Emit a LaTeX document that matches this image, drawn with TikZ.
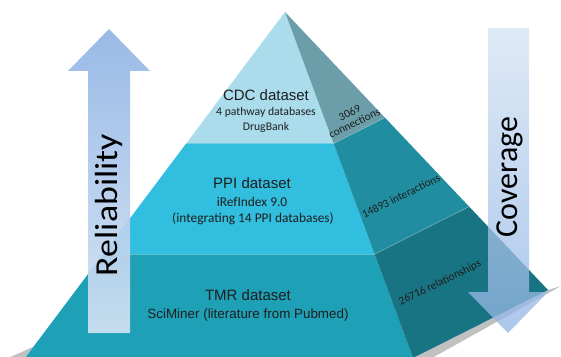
\documentclass[tikz,border=0pt]{standalone}
\usepackage{tikz,tkz-euclide}
\usetikzlibrary{positioning,calc}
\usepackage{fontspec}
\newfontfamily\arialfont{Liberation Sans}
\newfontfamily\calibfont{Carlito}

\definecolor{cdcfront}{RGB}{170,220,236}
\definecolor{cdcside}{RGB}{108,158,170}
\definecolor{ppifront}{RGB}{50,190,222}
\definecolor{ppiside}{RGB}{32,141,160}
\definecolor{tmrfront}{RGB}{30,160,182}
\definecolor{tmrside}{RGB}{24,116,131}
\definecolor{arrowdeep}{RGB}{145,180,228}
\definecolor{arrowmid}{RGB}{200,220,242}
\definecolor{arrowpale}{RGB}{210,226,243}
\definecolor{textdark}{RGB}{30,30,30}

\tikzset{
  dstitle/.style={font=\arialfont\fontsize{15}{17}\selectfont, text=textdark, anchor=base, inner sep=0pt},
  dssource/.style={font=\calibfont\fontsize{13.4}{15}\selectfont, text=textdark, anchor=base, inner sep=0pt},
  dscount/.style={font=\calibfont\fontsize{11.3}{11}\selectfont, text=textdark, rotate=26, align=center, inner sep=0pt},
  axisword/.style={font=\calibfont\fontsize{32}{34}\selectfont, text=black, rotate=90, anchor=base, inner sep=0pt},
}

\begin{document}
\begin{tikzpicture}[x=1pt,y=1pt]
  \useasboundingbox (0,0) rectangle (561,356);
  \clip (0,0) rectangle (561,356);
  % corners of the pyramid
  \tkzDefPoints{285/344/A, 25/-2/BL, 413/-2/BR, 548/66/R}
  \tkzDefBarycentricPoint(A=.62,BL=.38) \tkzGetPoint{L1}
  \tkzDefBarycentricPoint(A=.3,BL=.7)   \tkzGetPoint{L2}
  \tkzDefBarycentricPoint(A=.62,BR=.38) \tkzGetPoint{F1}
  \tkzDefBarycentricPoint(A=.3,BR=.7)   \tkzGetPoint{F2}
  \tkzDefBarycentricPoint(A=.62,R=.38)  \tkzGetPoint{R1}
  \tkzDefBarycentricPoint(A=.3,R=.7)    \tkzGetPoint{R2}
  % soft shadow under the base
  \tkzDefPoints{561/70/S1, 432/-2/S2, 8/-2/S3, 33/9/S4}
  \fill[black!55, opacity=.45] (BR) -- (R) -- (S1) -- (S2) -- cycle;
  \fill[black!55, opacity=.45] (S3) -- (BL) -- (S4) -- cycle;
  % front face
  \fill[cdcfront] (A) -- (L1) -- (F1) -- cycle;
  \fill[ppifront] (L1) -- (L2) -- (F2) -- (F1) -- cycle;
  \fill[tmrfront] (L2) -- (BL) -- (BR) -- (F2) -- cycle;
  % side face
  \fill[cdcside] (A) -- (F1) -- (R1) -- cycle;
  \fill[ppiside] (F1) -- (F2) -- (R2) -- (R1) -- cycle;
  \fill[tmrside] (F2) -- (BR) -- (R) -- (R2) -- cycle;
  \tkzDrawSegments[white, opacity=.3, line width=.6pt](L2,F2 F1,R1 F2,R2)

  % datasets
  \node[dstitle]  (cdc)    at (266,255.6) {CDC dataset};
  \node[dssource, font=\calibfont\fontsize{11.7}{13}\selectfont] (cdcsrc) at (266,240) {4 pathway databases};
  \node[dssource, font=\calibfont\fontsize{11.7}{13}\selectfont] (cdcdb)  at (266,225) {DrugBank};
  \node[dstitle]  (ppi)    at (252,167.5) {PPI dataset};
  \node[dssource] (ppisrc) at (252,149) {iRefIndex 9.0};
  \node[dssource] (ppidb)  at (253,134) {(integrating 14 PPI databases)};
  \node[dstitle]  (tmr)    at (248,55.5) {TMR dataset};
  \node[dssource, font=\arialfont\fontsize{13.4}{15}\selectfont] (tmrsrc) at (248,38) {SciMiner (literature from Pubmed)};

  % sizes on the side face
  \node[dscount] (cdcn) at (352,238) {3069\\connections};
  \node[dscount] (ppin) at (401,160) {14893 interactions};
  \node[dscount] (tmrn) at (440,73)  {26716 relationships};

  % reliability goes up
  \tkzDefPoints{88/23/ru1, 130/23/ru2, 130/285/ru3, 150/285/ru4, 109/327/ru5, 68/285/ru6, 88/285/ru7}
  \shade[top color=arrowdeep, middle color=arrowmid, bottom color=arrowpale, opacity=.92]
    (ru1) -- (ru2) -- (ru3) -- (ru4) -- (ru5) -- (ru6) -- (ru7) -- cycle;
  \node[axisword] (rel) at (117,151) {\scalebox{1.12}[1]{Reliability}};

  % coverage goes down
  \tkzDefPoints{488/328/cd1, 529/328/cd2, 529/64/cd3, 548/64/cd4, 508/23/cd5, 468/64/cd6, 488/64/cd7}
  \shade[top color=arrowpale, middle color=arrowmid, bottom color=arrowdeep, opacity=.75]
    (cd1) -- (cd2) -- (cd3) -- (cd4) -- (cd5) -- (cd6) -- (cd7) -- cycle;
  \node[axisword] (cov) at (517,179) {Coverage};
\end{tikzpicture}
\end{document}
